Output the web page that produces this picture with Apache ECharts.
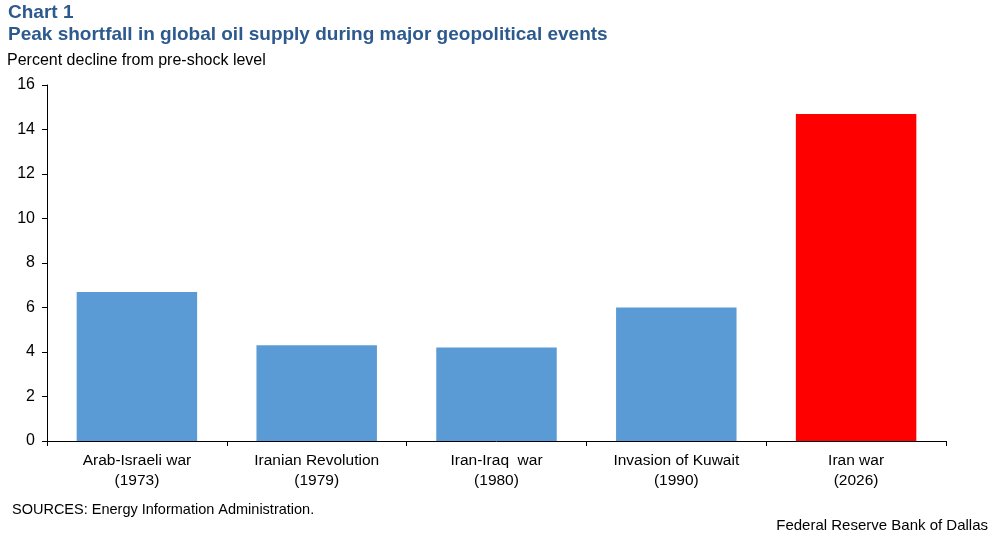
<!DOCTYPE html>
<html>
<head>
<meta charset="utf-8">
<script src="https://cdn.jsdelivr.net/npm/echarts@6/dist/echarts.min.js"></script>
<style>
  html, body { margin: 0; padding: 0; background: #fff; }
  #chart { width: 996px; height: 540px; }
</style>
</head>
<body>
<div id="chart"></div>
<script>
// chart data
var categories = [
  'Arab-Israeli war\n(1973)',
  'Iranian Revolution\n(1979)',
  'Iran-Iraq  war\n(1980)',
  'Invasion of Kuwait\n(1990)',
  'Iran war\n(2026)'
];
var shortfall = [6.7, 4.3, 4.2, 6.0, 14.7];
var barColors = ['#5b9bd5', '#5b9bd5', '#5b9bd5', '#5b9bd5', '#ff0000'];
var yTicks = { min: 0, max: 16, interval: 2 };

var chart = echarts.init(document.getElementById('chart'));
var font = 'Liberation Sans, Arial, sans-serif';

chart.setOption({
  animation: false,
  backgroundColor: '#fff',
  textStyle: { fontFamily: font },
  grid: { left: 47, right: 50, top: 85, bottom: 99 },
  xAxis: {
    type: 'category',
    data: categories,
    axisLine: { lineStyle: { color: '#000', width: 1 } },
    axisTick: { show: true, alignWithLabel: false, length: 5, lineStyle: { color: '#000' } },
    axisLabel: { color: '#000', fontSize: 15.5, lineHeight: 20, margin: 10, fontFamily: font }
  },
  yAxis: {
    type: 'value',
    min: yTicks.min,
    max: yTicks.max,
    interval: yTicks.interval,
    axisLine: { show: true, lineStyle: { color: '#000', width: 1 } },
    axisTick: { show: true, length: 5, lineStyle: { color: '#000' } },
    splitLine: { show: false },
    axisLabel: { color: '#000', fontSize: 16, margin: 12, fontFamily: font }
  },
  series: [{
    type: 'bar',
    data: shortfall.map(function (v, i) {
      return { value: v, itemStyle: { color: barColors[i] } };
    }),
    barCategoryGap: '33%'
  }],
  graphic: [
    { type: 'text', left: 8, top: 3, style: { text: 'Chart 1', fill: '#2d5a8e', font: 'bold 19px ' + font } },
    { type: 'text', left: 8, top: 25, style: { text: 'Peak shortfall in global oil supply during major geopolitical events', fill: '#2d5a8e', font: 'bold 19px ' + font } },
    { type: 'text', left: 7, top: 53, style: { text: 'Percent decline from pre-shock level', fill: '#000', font: '16px ' + font } },
    { type: 'text', left: 12, top: 502, style: { text: 'SOURCES: Energy Information Administration.', fill: '#000', font: '14.5px ' + font } },
    { type: 'text', right: 8, top: 518, style: { text: 'Federal Reserve Bank of Dallas', fill: '#000', font: '15px ' + font } }
  ]
});
</script>
</body>
</html>
